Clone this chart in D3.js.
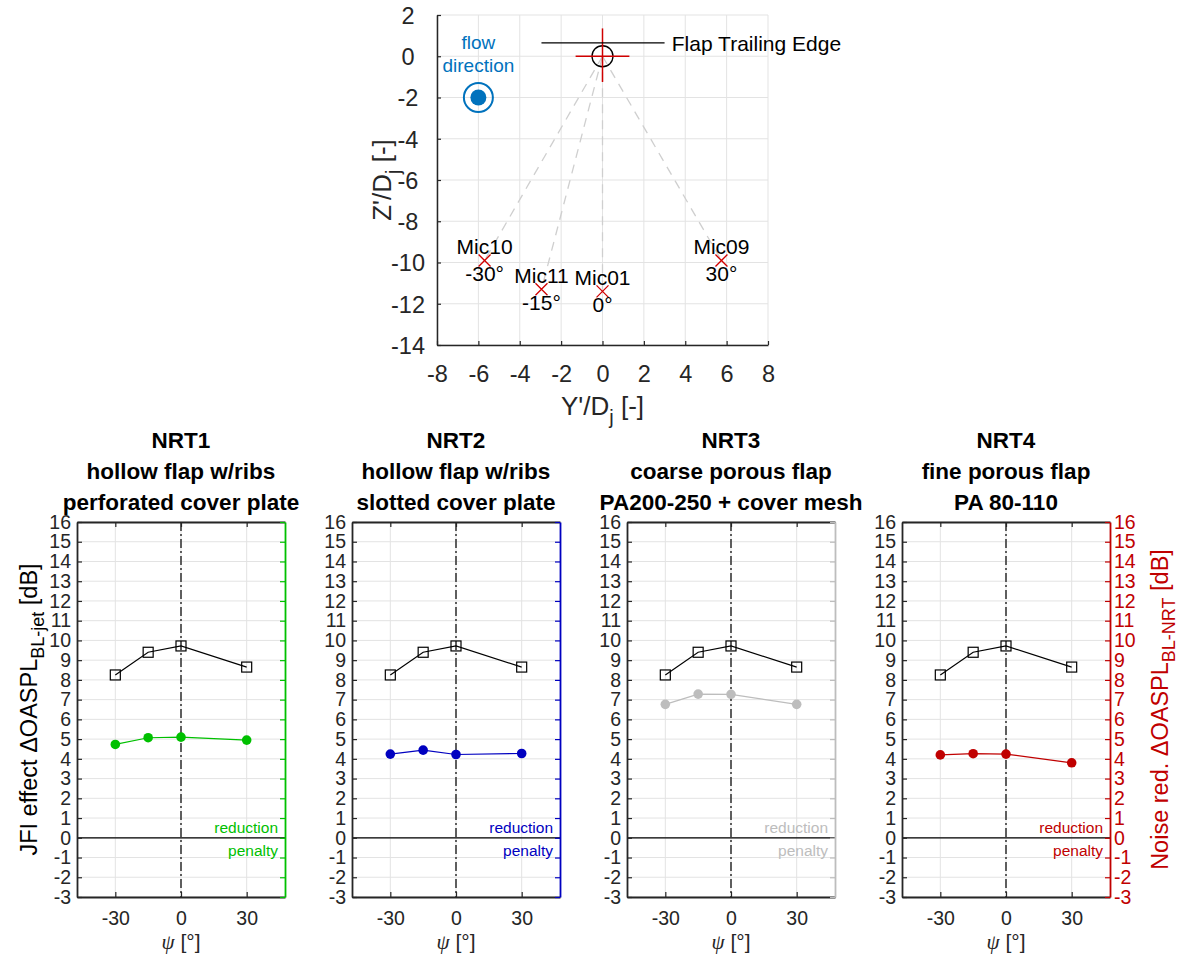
<!DOCTYPE html>
<html>
<head>
<meta charset="utf-8">
<script src="https://cdn.jsdelivr.net/npm/d3@7"></script>
<style>
  body { margin: 0; background: #fff; }
  svg { font-family: "Liberation Sans", Arial, Helvetica, sans-serif; }
</style>
</head>
<body>
<div id="chart"></div>
<script>
/* microphone layout (top plot), Y'/Dj and Z'/Dj */
var micNames = ["Mic10", "Mic11", "Mic01", "Mic09"];
var micAngles = ["-30°", "-15°", "0°", "30°"];
var micY = [-5.7, -2.95, 0, 5.75];
var micZ = [-9.9, -11.3, -11.4, -9.9];
var flowY = -6, flowZ = -2;

/* OASPL deltas vs. polar angle psi */
var psi = [-30, -15, 0, 30];
var jfiEffect = [8.25, 9.4, 9.72, 8.65];
var nrt1Red = [4.73, 5.07, 5.1, 4.95];
var nrt2Red = [4.24, 4.44, 4.22, 4.27];
var nrt3Red = [6.76, 7.28, 7.27, 6.76];
var nrt4Red = [4.2, 4.26, 4.24, 3.8];

var nrtTitles = ["NRT1", "NRT2", "NRT3", "NRT4"];
var nrtLine2 = ["hollow flap w/ribs", "hollow flap w/ribs", "coarse porous flap", "fine porous flap"];
var nrtLine3 = ["perforated cover plate", "slotted cover plate", "PA200-250 + cover mesh", "PA 80-110"];

var topXTicks = [-8, -6, -4, -2, 0, 2, 4, 6, 8];
var topYTicks = [2, 0, -2, -4, -6, -8, -10, -12, -14];
var psiTicks = [-30, 0, 30];
var dbTicks = [-3, -2, -1, 0, 1, 2, 3, 4, 5, 6, 7, 8, 9, 10, 11, 12, 13, 14, 15, 16];

var nrtData = [nrt1Red, nrt2Red, nrt3Red, nrt4Red];
var nrtColors = ["#00c000", "#0000c0", "#bdbdbd", "#c00000"];

var W = 1178, H = 962;
var gridCol = "#e3e3e3", axisCol = "#262626";

var svg = d3.select("#chart").append("svg")
    .attr("width", W).attr("height", H);

/* ---------- top plot: microphone positions ---------- */
var xT = d3.scaleLinear().domain([-8, 8]).range([437, 768]);
var yT = d3.scaleLinear().domain([2, -14]).range([15, 345]);

var topG = svg.append("g");

topG.selectAll(".gx").data(topXTicks).enter().append("line")
    .attr("x1", d => xT(d)).attr("x2", d => xT(d))
    .attr("y1", yT(2)).attr("y2", yT(-14))
    .attr("stroke", gridCol);
topG.selectAll(".gy").data(topYTicks).enter().append("line")
    .attr("x1", xT(-8)).attr("x2", xT(8))
    .attr("y1", d => yT(d)).attr("y2", d => yT(d))
    .attr("stroke", gridCol);

// dashed lines from trailing edge to mics
topG.selectAll(".ray").data(micY).enter().append("line")
    .attr("x1", xT(0)).attr("y1", yT(0))
    .attr("x2", (d, i) => xT(d)).attr("y2", (d, i) => yT(micZ[i]))
    .attr("stroke", "#cfcfcf").attr("stroke-width", 1.3)
    .attr("stroke-dasharray", "9,7");

var xAxT = topG.append("g")
    .attr("transform", "translate(0," + yT(-14) + ")")
    .call(d3.axisBottom(xT).tickValues(topXTicks).tickSizeInner(-4).tickSizeOuter(0)
        .tickPadding(20).tickFormat(d => String(d)));
var yAxT = topG.append("g")
    .attr("transform", "translate(" + xT(-8) + ",0)")
    .call(d3.axisLeft(yT).tickValues(topYTicks).tickSizeInner(-4).tickSizeOuter(0)
        .tickFormat(d => String(d)));
[xAxT, yAxT].forEach(function(a) {
    a.select(".domain").attr("stroke", axisCol).attr("stroke-width", 1.5);
    a.selectAll(".tick line").attr("stroke", axisCol).attr("stroke-width", 1.2);
    a.selectAll("text").attr("font-size", 23.5).attr("fill", axisCol)
        .attr("font-family", "Liberation Sans, Arial, sans-serif");
});
yAxT.selectAll("text").attr("text-anchor", "middle").attr("x", -29).attr("dy", "0.36em");

// axis labels
topG.append("text")
    .attr("x", xT(0)).attr("y", 415)
    .attr("text-anchor", "middle").attr("font-size", 26).attr("fill", axisCol)
    .call(t => {
        t.append("tspan").text("Y'/D");
        t.append("tspan").attr("dy", 9).attr("font-size", 20).text("j");
        t.append("tspan").attr("dy", -9).text(" [-]");
    });
topG.append("text")
    .attr("transform", "translate(391," + yT(-6) + ") rotate(-90)")
    .attr("text-anchor", "middle").attr("font-size", 26).attr("fill", axisCol)
    .call(t => {
        t.append("tspan").text("Z'/D");
        t.append("tspan").attr("dy", 9).attr("font-size", 20).text("j");
        t.append("tspan").attr("dy", -9).text(" [-]");
    });

// flow direction symbol
var flowCol = "#0072bd";
topG.append("circle").attr("cx", xT(flowY)).attr("cy", yT(flowZ)).attr("r", 14.5)
    .attr("fill", "none").attr("stroke", flowCol).attr("stroke-width", 2);
topG.append("circle").attr("cx", xT(flowY)).attr("cy", yT(flowZ)).attr("r", 8)
    .attr("fill", flowCol);
topG.append("text").attr("x", xT(flowY)).attr("y", 49)
    .attr("text-anchor", "middle").attr("font-size", 19).attr("fill", flowCol).text("flow");
topG.append("text").attr("x", xT(flowY)).attr("y", 72)
    .attr("text-anchor", "middle").attr("font-size", 19).attr("fill", flowCol).text("direction");

// flap trailing edge marker
var red = "#d00000";
topG.append("circle").attr("cx", xT(0)).attr("cy", yT(0)).attr("r", 10.5)
    .attr("fill", "none").attr("stroke", "#000").attr("stroke-width", 1.3);
topG.append("line").attr("x1", xT(-1.3)).attr("x2", xT(1.3)).attr("y1", yT(0)).attr("y2", yT(0))
    .attr("stroke", red).attr("stroke-width", 1.5);
topG.append("line").attr("x1", xT(0)).attr("x2", xT(0)).attr("y1", yT(1.35)).attr("y2", yT(-1.25))
    .attr("stroke", red).attr("stroke-width", 1.5);
topG.append("line").attr("x1", xT(-2.95)).attr("x2", xT(3.0)).attr("y1", yT(0.65)).attr("y2", yT(0.65))
    .attr("stroke", "#000").attr("stroke-width", 1.3);
topG.append("text").attr("x", xT(3.35)).attr("y", yT(0.65) + 8)
    .attr("font-size", 21).attr("fill", "#000").text("Flap Trailing Edge");

// microphones
var mics = topG.selectAll(".mic").data(micY).enter().append("g")
    .attr("transform", (d, i) => "translate(" + xT(d) + "," + yT(micZ[i]) + ")");
mics.append("path").attr("d", "M-6,-6L6,6M-6,6L6,-6")
    .attr("stroke", red).attr("stroke-width", 1.3);
mics.append("text").attr("y", -6).attr("text-anchor", "middle")
    .attr("font-size", 21).attr("fill", "#000").text((d, i) => micNames[i]);
mics.append("text").attr("y", 21).attr("text-anchor", "middle")
    .attr("font-size", 21).attr("fill", "#000").text((d, i) => micAngles[i]);

/* ---------- bottom panels ---------- */
var panelLeft = [77, 352, 627, 902];
var pw = 208, pTop = 522, pBot = 897;
var y = d3.scaleLinear().domain([-3, 16]).range([pBot, pTop]);

nrtData.forEach(function(vals, k) {
    var col = nrtColors[k];
    var x = d3.scaleLinear().domain([-47.5, 47.5]).range([panelLeft[k], panelLeft[k] + pw]);
    var g = svg.append("g");

    // grid
    g.selectAll(".gy").data(dbTicks).enter().append("line")
        .attr("x1", x(-47.5)).attr("x2", x(47.5))
        .attr("y1", d => y(d)).attr("y2", d => y(d))
        .attr("stroke", gridCol);
    g.selectAll(".gx").data(psiTicks).enter().append("line")
        .attr("x1", d => x(d)).attr("x2", d => x(d))
        .attr("y1", pTop).attr("y2", pBot)
        .attr("stroke", gridCol);

    // zero line and psi=0 line
    g.append("line").attr("x1", x(-47.5)).attr("x2", x(47.5))
        .attr("y1", y(0)).attr("y2", y(0)).attr("stroke", "#000").attr("stroke-width", 1.2);
    g.append("line").attr("x1", x(0)).attr("x2", x(0))
        .attr("y1", pTop).attr("y2", pBot)
        .attr("stroke", "#3a3a3a").attr("stroke-width", 1.6)
        .attr("stroke-dasharray", "9,3,2,3");

    // reduction / penalty
    g.append("text").attr("x", x(47.5) - 7).attr("y", y(0) - 5)
        .attr("text-anchor", "end").attr("font-size", 15.5).attr("fill", col).text("reduction");
    g.append("text").attr("x", x(47.5) - 7).attr("y", y(0) + 18)
        .attr("text-anchor", "end").attr("font-size", 15.5).attr("fill", col).text("penalty");

    // JFI effect (black squares)
    var line = d3.line().x((d, i) => x(psi[i])).y(d => y(d));
    g.append("path").datum(jfiEffect).attr("d", line)
        .attr("fill", "none").attr("stroke", "#000").attr("stroke-width", 1.2);
    g.selectAll(".sq").data(jfiEffect).enter().append("rect")
        .attr("x", (d, i) => x(psi[i]) - 5).attr("y", d => y(d) - 5)
        .attr("width", 10).attr("height", 10)
        .attr("fill", "none").attr("stroke", "#000").attr("stroke-width", 1.2);

    // noise reduction (coloured dots)
    g.append("path").datum(vals).attr("d", line)
        .attr("fill", "none").attr("stroke", col).attr("stroke-width", 1.2);
    g.selectAll(".dot").data(vals).enter().append("circle")
        .attr("cx", (d, i) => x(psi[i])).attr("cy", d => y(d)).attr("r", 4.8)
        .attr("fill", col);

    // axes
    var ax = g.append("g").attr("transform", "translate(0," + pBot + ")")
        .call(d3.axisBottom(x).tickValues(psiTicks).tickSizeInner(-5).tickSizeOuter(0)
            .tickPadding(14).tickFormat(d => String(d)));
    var axTop = g.append("g").attr("transform", "translate(0," + pTop + ")")
        .call(d3.axisTop(x).tickValues(psiTicks).tickSizeInner(-5).tickSizeOuter(0).tickFormat(""));
    var ayl = g.append("g").attr("transform", "translate(" + x(-47.5) + ",0)")
        .call(d3.axisLeft(y).tickValues(dbTicks).tickSizeInner(-5).tickSizeOuter(0)
            .tickPadding(6).tickFormat(d => String(d)));
    var ayr = g.append("g").attr("transform", "translate(" + x(47.5) + ",0)")
        .call(d3.axisRight(y).tickValues(dbTicks).tickSizeInner(-5).tickSizeOuter(0)
            .tickPadding(4).tickFormat(k === 3 ? (d => String(d)) : ""));

    [ax, axTop, ayl].forEach(function(a) {
        a.select(".domain").attr("stroke", axisCol).attr("stroke-width", 1.8);
        a.selectAll(".tick line").attr("stroke", axisCol).attr("stroke-width", 1.2);
        a.selectAll("text").attr("font-size", 19.5).attr("fill", axisCol)
            .attr("font-family", "Liberation Sans, Arial, sans-serif");
    });
    ayr.select(".domain").attr("stroke", col).attr("stroke-width", 1.8);
    ayr.selectAll(".tick line").attr("stroke", col).attr("stroke-width", 1.2);
    ayr.selectAll("text").attr("font-size", 19.5).attr("fill", col)
        .attr("font-family", "Liberation Sans, Arial, sans-serif");

    // titles
    var cx = x(0);
    [nrtTitles[k], nrtLine2[k], nrtLine3[k]].forEach(function(s, j) {
        g.append("text").attr("x", cx).attr("y", 448 + j * 31)
            .attr("text-anchor", "middle").attr("font-size", 22.5).attr("font-weight", "bold")
            .attr("fill", "#000").text(s);
    });

    // x label
    g.append("text").attr("x", cx).attr("y", 949)
        .attr("text-anchor", "middle").attr("font-size", 21).attr("fill", axisCol)
        .call(t => {
            t.append("tspan").attr("font-family", "Liberation Serif, serif")
                .attr("font-style", "italic").text("ψ");
            t.append("tspan").text(" [°]");
        });
});

// y labels
svg.append("text")
    .attr("transform", "translate(37," + y(6.5) + ") rotate(-90)")
    .attr("text-anchor", "middle").attr("font-size", 23.5).attr("fill", "#000")
    .call(t => {
        t.append("tspan").text("JFI effect ΔOASPL");
        t.append("tspan").attr("dy", 7).attr("font-size", 18).text("BL-jet");
        t.append("tspan").attr("dy", -7).text(" [dB]");
    });
svg.append("text")
    .attr("transform", "translate(1168," + y(6.5) + ") rotate(-90)")
    .attr("text-anchor", "middle").attr("font-size", 23.5).attr("fill", nrtColors[3])
    .call(t => {
        t.append("tspan").text("Noise red. ΔOASPL");
        t.append("tspan").attr("dy", 7).attr("font-size", 18).text("BL-NRT");
        t.append("tspan").attr("dy", -7).text(" [dB]");
    });
</script>
</body>
</html>
